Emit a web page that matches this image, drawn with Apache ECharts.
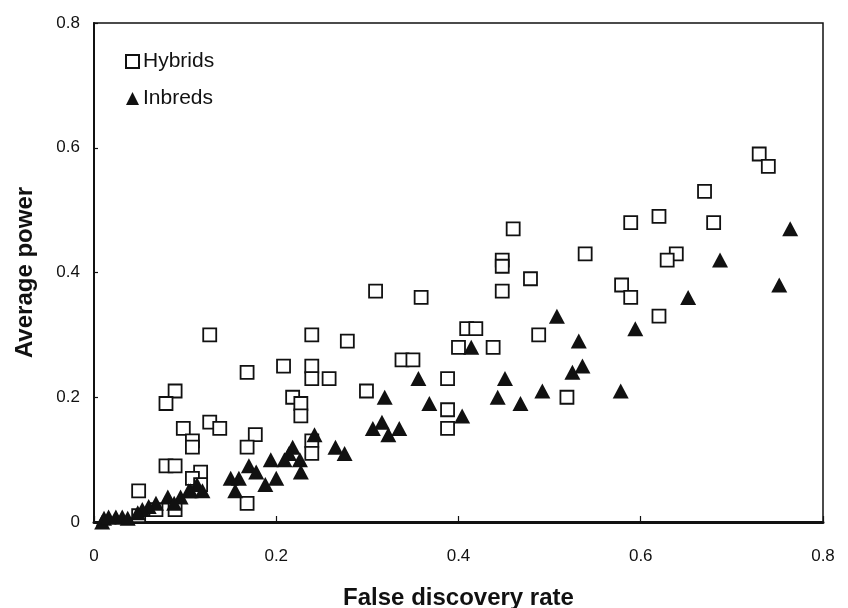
<!DOCTYPE html>
<html><head><meta charset="utf-8">
<script src="https://cdn.jsdelivr.net/npm/echarts@6/dist/echarts.min.js"></script>
<style>html,body{margin:0;padding:0;background:#fff}#c{width:848px;height:608px}</style>
</head><body><div id="c"></div>
<script>
const xTicks = [0, 0.2, 0.4, 0.6, 0.8];
const yTicks = [0, 0.2, 0.4, 0.6, 0.8];
const hybridsFDR = [0.730,0.740,0.670,0.589,0.620,0.680,0.539,0.639,0.629,0.579,0.589,0.620,0.519,0.460,0.448,0.448,0.479,0.448,0.409,0.419,0.400,0.438,0.488,0.388,0.388,0.388,0.309,0.359,0.239,0.278,0.208,0.239,0.239,0.258,0.218,0.227,0.227,0.299,0.338,0.350,0.239,0.239,0.127,0.168,0.089,0.079,0.098,0.127,0.138,0.108,0.108,0.177,0.168,0.079,0.089,0.117,0.108,0.117,0.168,0.068,0.089,0.049,0.049];
const hybridsPower = [0.59,0.57,0.53,0.48,0.49,0.48,0.43,0.43,0.42,0.38,0.36,0.33,0.20,0.47,0.42,0.41,0.39,0.37,0.31,0.31,0.28,0.28,0.30,0.23,0.18,0.15,0.37,0.36,0.30,0.29,0.25,0.25,0.23,0.23,0.20,0.19,0.17,0.21,0.26,0.26,0.13,0.11,0.30,0.24,0.21,0.19,0.15,0.16,0.15,0.13,0.12,0.14,0.12,0.09,0.09,0.08,0.07,0.06,0.03,0.02,0.02,0.05,0.01];
const inbredsFDR = [0.764,0.687,0.752,0.652,0.594,0.532,0.536,0.525,0.578,0.508,0.414,0.451,0.443,0.468,0.492,0.368,0.404,0.356,0.319,0.316,0.306,0.335,0.323,0.242,0.218,0.265,0.275,0.214,0.226,0.227,0.209,0.194,0.170,0.178,0.200,0.188,0.150,0.159,0.155,0.113,0.119,0.106,0.095,0.081,0.068,0.088,0.060,0.053,0.048,0.104,0.009,0.011,0.016,0.024,0.031,0.037];
const inbredsPower = [0.47,0.42,0.38,0.36,0.31,0.29,0.25,0.24,0.21,0.33,0.28,0.23,0.20,0.19,0.21,0.19,0.17,0.23,0.20,0.16,0.15,0.15,0.14,0.14,0.12,0.12,0.11,0.11,0.10,0.08,0.10,0.10,0.09,0.08,0.07,0.06,0.07,0.07,0.05,0.06,0.05,0.05,0.04,0.04,0.03,0.03,0.025,0.02,0.015,0.05,0.0,0.006,0.008,0.008,0.008,0.006];

const hybrids = hybridsFDR.map((x,i)=>[x,hybridsPower[i]]);
const inbreds = inbredsFDR.map((x,i)=>[x,inbredsPower[i]]);
const font = 'Liberation Sans, Arial, sans-serif';
const fmt = ticks => v => { const t = ticks.find(t=>Math.abs(t-v)<1e-9); return t===0 ? '0' : String(t); };
const chart = echarts.init(document.getElementById('c'), null, {renderer:'canvas'});
chart.setOption({
  animation:false,
  backgroundColor:'#fff',
  grid:{left:94,right:25,top:23,bottom:86,outerBoundsMode:'none',containLabel:false,show:true,borderColor:'#111',borderWidth:1.5,backgroundColor:'transparent'},
  legend:{
    orient:'vertical', left:120, top:46, itemGap:16, itemWidth:13, itemHeight:13,
    textStyle:{fontFamily:font,fontSize:21,color:'#111',padding:[0,0,0,-1]},
    data:[{name:'Hybrids',icon:'rect'},{name:'Inbreds',icon:'triangle',itemStyle:{}}]
  },
  xAxis:{
    type:'value', min:0, max:0.8, interval:0.2,
    name:'False discovery rate', nameLocation:'middle', nameGap:64,
    nameTextStyle:{fontFamily:font,fontSize:24,fontWeight:'bold',color:'#111'},
    axisLine:{show:true,onZero:false,lineStyle:{color:'#111',width:3}},
    axisTick:{show:true,inside:true,length:6,lineStyle:{color:'#111',width:1.2}},
    axisLabel:{fontFamily:font,fontSize:17,color:'#111',margin:26,formatter:fmt(xTicks)},
    splitLine:{show:false}
  },
  yAxis:{
    type:'value', min:0, max:0.8, interval:0.2,
    name:'Average power', nameLocation:'middle', nameGap:57, nameRotate:90,
    nameTextStyle:{fontFamily:font,fontSize:24,fontWeight:'bold',color:'#111'},
    axisLine:{show:true,onZero:false,lineStyle:{color:'#111',width:2}},
    axisTick:{show:true,inside:true,length:4,lineStyle:{color:'#111',width:1.2}},
    axisLabel:{fontFamily:font,fontSize:17,color:'#111',margin:14,formatter:fmt(yTicks)},
    splitLine:{show:false}
  },
  series:[
    {name:'Hybrids',type:'scatter',symbol:'rect',symbolSize:13,data:hybrids,
     itemStyle:{color:'#fff',borderColor:'#111',borderWidth:1.8,opacity:1},z:2},
    {name:'Inbreds',type:'scatter',symbol:'triangle',symbolSize:[16,15],data:inbreds,
     itemStyle:{color:'#111',borderColor:'#111',borderWidth:0,opacity:1},z:3}
  ]
});
</script></body></html>
